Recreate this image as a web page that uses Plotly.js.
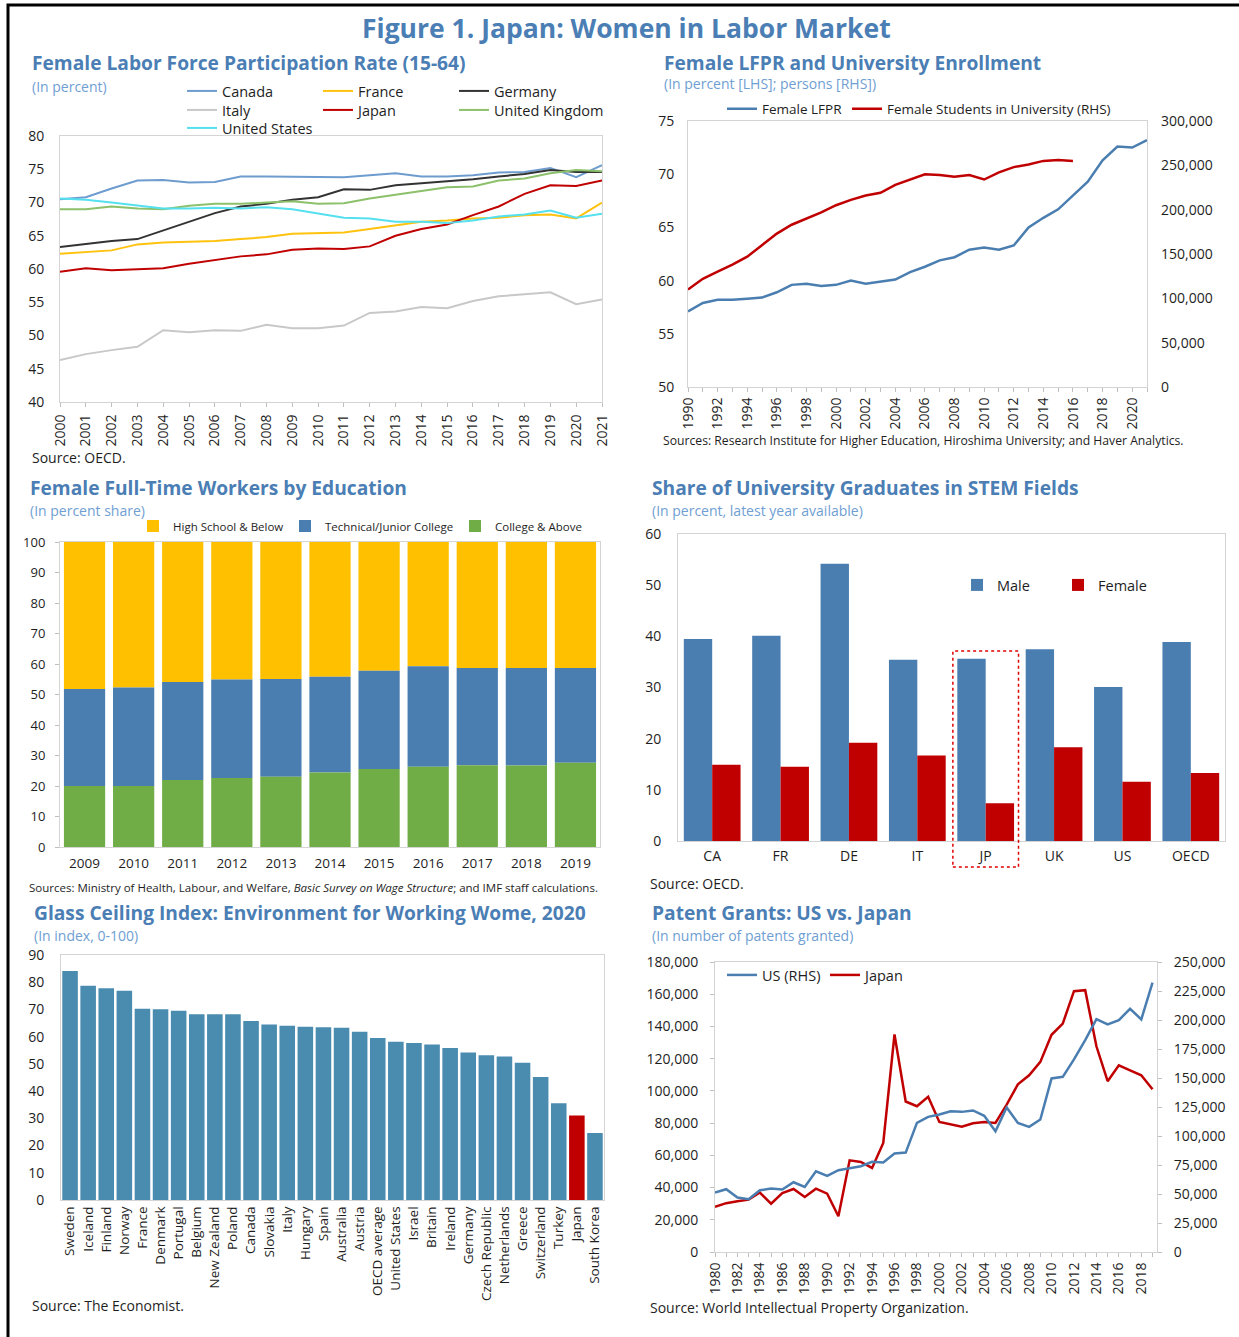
<!DOCTYPE html>
<html><head><meta charset="utf-8">
<script src="https://cdn.plot.ly/plotly-3.0.1.min.js"></script>
<style>html,body{margin:0;padding:0;background:#fff}#chart{width:1239px;height:1337px}</style>
</head><body><div id="chart"></div>
<script>
// ---------- DATA ----------
// Panel 1: Female LFPR (15-64), percent
const lfprYears = [2000,2001,2002,2003,2004,2005,2006,2007,2008,2009,2010,2011,2012,2013,2014,2015,2016,2017,2018,2019,2020,2021];
const lfprCanada = [70.5,70.8,72.1,73.3,73.4,73.0,73.1,73.9,73.9,73.9,73.9,73.8,74.1,74.4,73.9,73.9,74.1,74.5,74.6,75.2,73.8,75.6];
const lfprFrance = [62.3,62.5,62.8,63.7,64.0,64.1,64.2,64.5,64.8,65.3,65.4,65.5,66.0,66.6,67.1,67.3,67.6,67.7,68.1,68.2,67.6,70.0];
const lfprGermany = [63.3,63.8,64.2,64.5,65.8,67.0,68.4,69.4,69.8,70.4,70.8,72.0,71.9,72.6,72.9,73.1,73.5,73.9,74.3,74.9,74.6,74.6];
const lfprItaly = [46.3,47.2,47.8,48.3,50.8,50.5,50.8,50.7,51.6,51.1,51.1,51.5,53.4,53.6,54.3,54.1,55.2,55.9,56.2,56.5,54.7,55.4];
const lfprJapan = [59.6,60.1,59.8,59.9,60.1,60.8,61.3,61.9,62.2,62.9,63.1,63.0,63.4,65.0,66.0,66.7,68.1,69.4,71.3,72.6,72.5,73.3];
const lfprUK = [69.0,69.0,69.4,69.1,69.0,69.5,69.8,69.8,70.0,70.2,69.8,69.9,70.6,71.2,71.7,72.3,72.4,73.3,73.6,74.4,74.9,74.7];
const lfprUS = [70.6,70.4,70.0,69.6,69.1,69.1,69.2,69.1,69.3,69.0,68.3,67.7,67.6,67.1,67.1,66.9,67.3,67.9,68.2,68.8,67.7,68.3];

// Panel 2: Japan female LFPR and female university students
const jpYears = [1990,1991,1992,1993,1994,1995,1996,1997,1998,1999,2000,2001,2002,2003,2004,2005,2006,2007,2008,2009,2010,2011,2012,2013,2014,2015,2016,2017,2018,2019,2020,2021];
const jpFemaleLFPR = [57.1,57.9,58.2,58.2,58.3,58.4,58.9,59.6,59.7,59.5,59.6,60.0,59.7,59.9,60.1,60.8,61.3,61.9,62.2,62.9,63.1,62.9,63.3,65.0,65.9,66.7,68.0,69.3,71.3,72.6,72.5,73.2];
const studentYears = [1990,1991,1992,1993,1994,1995,1996,1997,1998,1999,2000,2001,2002,2003,2004,2005,2006,2007,2008,2009,2010,2011,2012,2013,2014,2015,2016];
const femaleStudents = [110000,122000,130000,138000,147000,160000,173000,183000,190000,197000,205000,211000,216000,219000,228000,234000,240000,239000,237000,239000,234000,242000,248000,251000,255000,256000,255000];

// Panel 3: Female full-time workers by education (percent share)
const eduYears = ['2009','2010','2011','2012','2013','2014','2015','2016','2017','2018','2019'];
const eduCollege = [20.0,20.0,22.0,22.6,23.0,24.4,25.6,26.3,26.8,26.7,27.6];
const eduTechnical = [31.8,32.3,32.1,32.3,32.1,31.4,32.2,33.0,31.9,32.0,31.1];
const eduHighSchool = [48.2,47.7,45.9,45.1,44.9,44.2,42.2,40.7,41.3,41.3,41.3];

// Panel 4: Share of university graduates in STEM fields
const stemCountries = ['CA','FR','DE','IT','JP','UK','US','OECD'];
const stemMale = [39.5,40.1,54.2,35.4,35.6,37.5,30.1,38.9];
const stemFemale = [14.9,14.5,19.2,16.7,7.4,18.3,11.6,13.3];

// Panel 5: Glass ceiling index 2020
const gciCountries = ['Sweden','Iceland','Finland','Norway','France','Denmark','Portugal','Belgium','New Zealand','Poland','Canada','Slovakia','Italy','Hungary','Spain','Australia','Austria','OECD average','United States','Israel','Britain','Ireland','Germany','Czech Republic','Netherlands','Greece','Switzerland','Turkey','Japan','South Korea'];
const gciValues = [84.1,78.7,77.8,76.9,70.3,70.1,69.5,68.2,68.2,68.2,65.8,64.5,64.0,63.6,63.5,63.3,61.8,59.5,58.1,57.7,57.1,55.8,54.2,53.2,52.7,50.4,45.2,35.5,31.0,24.6];

// Panel 6: Patent grants
const patentYears = [1980,1981,1982,1983,1984,1985,1986,1987,1988,1989,1990,1991,1992,1993,1994,1995,1996,1997,1998,1999,2000,2001,2002,2003,2004,2005,2006,2007,2008,2009,2010,2011,2012,2013,2014,2015,2016,2017,2018,2019];
const patentUS = [51200,54100,46900,45500,53200,54700,53800,60100,56100,69600,65600,70500,72200,73900,77700,77100,84900,85700,111300,116500,118500,121400,120800,122000,117400,104100,124600,111300,107900,114200,149600,151000,166000,182700,200800,196200,199900,209700,200500,232200];
const patentJapan = [28000,30300,31500,32500,36900,30000,36600,39100,34200,39300,36200,22200,56900,55900,52200,67700,135000,93400,90500,96300,80700,79100,77800,79900,80700,80100,91500,104100,109700,118000,134800,141800,161900,162500,127700,106000,115900,112800,109700,101000];

// ---------- LAYOUT HELPERS ----------
const W = 1239, H = 1337;
const px = v => v / W;
const py = v => 1 - v / H;
const xd = (a, b) => [px(a), px(b)];
const yd = (top, bot) => [py(bot), py(top)];

const FONT = 'Open Sans, sans-serif';
const TXT = '#1e1e1e';
const TITLE_BLUE = '#4A7EB4';
const SUB_BLUE = '#6F9ED3';
const BOX = '#d4d4d4';
const BLUE = '#4A7EB0';
const RED = '#C00000';

function baseAxis(extra) {
  return Object.assign({
    showgrid: false, zeroline: false, showline: true, mirror: true,
    linecolor: BOX, linewidth: 1, ticks: 'outside', ticklen: 4, tickcolor: '#bfbfbf',
    tickfont: {family: FONT, size: 14, color: TXT}, fixedrange: true
  }, extra);
}

const traces = [];
// Panel 1 (legend rows of three columns)
const p1 = [
  ['Canada', lfprCanada, '#6E9CCF', 'legend', 91],
  ['France', lfprFrance, '#FFC20E', 'legend', 91],
  ['Germany', lfprGermany, '#333333', 'legend', null],
  ['Italy', lfprItaly, '#C8C8C8', 'legend2', 91],
  ['Japan', lfprJapan, RED, 'legend2', 91],
  ['United Kingdom', lfprUK, '#8CC06B', 'legend2', null],
  ['United States', lfprUS, '#55E0F0', 'legend3', null]
];
p1.forEach(s => {
  const t = {type: 'scatter', mode: 'lines', name: s[0], x: lfprYears, y: s[1],
    line: {color: s[2], width: 2}, xaxis: 'x', yaxis: 'y', legend: s[3]};
  if (s[4]) t.legendwidth = s[4];
  traces.push(t);
});
// Panel 2
traces.push({type: 'scatter', mode: 'lines', name: 'Female LFPR', x: jpYears, y: jpFemaleLFPR,
  line: {color: BLUE, width: 2.5}, xaxis: 'x2', yaxis: 'y2', legend: 'legend4', legendwidth: 80});
traces.push({type: 'scatter', mode: 'lines', name: 'Female Students in University (RHS)', x: studentYears, y: femaleStudents,
  line: {color: RED, width: 2.5}, xaxis: 'x2', yaxis: 'y3', legend: 'legend4'});
// Panel 3 (stacked via base)
const techBase = eduCollege;
const hsBase = eduCollege.map((v, i) => v + eduTechnical[i]);
traces.push({type: 'bar', name: 'High School & Below', x: eduYears, y: eduHighSchool, base: hsBase,
  marker: {color: '#FFC000'}, width: 0.84, xaxis: 'x3', yaxis: 'y4', legend: 'legend5', legendwidth: 107});
traces.push({type: 'bar', name: 'Technical/Junior College', x: eduYears, y: eduTechnical, base: techBase,
  marker: {color: BLUE}, width: 0.84, xaxis: 'x3', yaxis: 'y4', legend: 'legend5', legendwidth: 125});
traces.push({type: 'bar', name: 'College & Above', x: eduYears, y: eduCollege,
  marker: {color: '#70AD47'}, width: 0.84, xaxis: 'x3', yaxis: 'y4', legend: 'legend5'});
// Panel 4
traces.push({type: 'bar', name: 'Male', x: stemCountries, y: stemMale, width: 0.415, offset: -0.415,
  marker: {color: BLUE}, xaxis: 'x4', yaxis: 'y5', legend: 'legend6', legendwidth: 56});
traces.push({type: 'bar', name: 'Female', x: stemCountries, y: stemFemale, width: 0.415, offset: 0,
  marker: {color: RED}, xaxis: 'x4', yaxis: 'y5', legend: 'legend6'});
// Panel 5
traces.push({type: 'bar', name: 'Glass ceiling index', x: gciCountries, y: gciValues, width: 0.86,
  marker: {color: gciCountries.map(c => c === 'Japan' ? RED : '#4A8BB0')}, xaxis: 'x5', yaxis: 'y6', showlegend: false});
// Panel 6
traces.push({type: 'scatter', mode: 'lines', name: 'US (RHS)', x: patentYears, y: patentUS,
  line: {color: BLUE, width: 2.5}, xaxis: 'x6', yaxis: 'y8', legend: 'legend7', legendwidth: 58});
traces.push({type: 'scatter', mode: 'lines', name: 'Japan', x: patentYears, y: patentJapan,
  line: {color: RED, width: 2.5}, xaxis: 'x6', yaxis: 'y7', legend: 'legend7'});

function legendAt(textX, rowY, size) {
  return {orientation: 'h', x: px(textX - 40), xanchor: 'left', y: py(rowY), yanchor: 'middle',
    bgcolor: 'rgba(0,0,0,0)', borderwidth: 0, font: {family: FONT, size: size, color: TXT}, itemclick: false, itemdoubleclick: false};
}

function ann(text, x, y, size, color, opts) {
  return Object.assign({text: text, xref: 'paper', yref: 'paper', x: px(x), y: py(y), xanchor: 'left', yanchor: 'middle',
    showarrow: false, font: {family: FONT, size: size, color: color}}, opts || {});
}
const T = (t, x, y) => ann('<b>' + t + '</b>', x, y, 19.2, TITLE_BLUE);
const S = (t, x, y) => ann(t, x, y, 14, SUB_BLUE);

const layout = {
  width: W, height: H, margin: {l: 0, r: 0, t: 0, b: 0}, paper_bgcolor: '#fff', plot_bgcolor: '#fff',
  font: {family: FONT, color: TXT}, barmode: 'overlay', hovermode: false, showlegend: true,
  // Panel 1
  xaxis: baseAxis({domain: xd(60, 602), anchor: 'y', range: [2000, 2021], tickmode: 'linear', tick0: 2000, dtick: 1, tickangle: -90, ticklabelstandoff: 2}),
  yaxis: baseAxis({domain: yd(136, 402), anchor: 'x', range: [40, 80], dtick: 5, ticks: '', ticklabelstandoff: 12}),
  // Panel 2
  xaxis2: baseAxis({domain: xd(688, 1147), anchor: 'y2', range: [1990, 2021], tickmode: 'linear', tick0: 1990, dtick: 2, tickangle: -90,
    minor: {dtick: 1, ticks: 'outside', ticklen: 4, tickcolor: '#bfbfbf'}}),
  yaxis2: baseAxis({domain: yd(121, 387), anchor: 'x2', range: [50, 75], dtick: 5, ticks: '', ticklabelstandoff: 10}),
  yaxis3: baseAxis({overlaying: 'y2', side: 'right', anchor: 'x2', range: [0, 300000], dtick: 50000, tickformat: ',d', ticks: '', showline: false, ticklabelstandoff: 13}),
  // Panel 3
  xaxis3: baseAxis({domain: xd(60, 600), anchor: 'y4', type: 'category', ticks: '', ticklabelstandoff: 4, tickfont: {family: FONT, size: 13.5, color: TXT}}),
  yaxis4: baseAxis({domain: yd(542, 847), anchor: 'x3', range: [0, 100], dtick: 10, ticklabelstandoff: 7, tickfont: {family: FONT, size: 13, color: TXT}}),
  // Panel 4
  xaxis4: baseAxis({domain: xd(678, 1225), anchor: 'y5', type: 'category', ticks: '', ticklabelstandoff: 2}),
  yaxis5: baseAxis({domain: yd(534, 841), anchor: 'x4', range: [0, 60], dtick: 10, ticks: '', ticklabelstandoff: 13}),
  // Panel 5
  xaxis5: baseAxis({domain: xd(61, 604), anchor: 'y6', type: 'category', ticks: '', tickangle: -90, tickfont: {family: FONT, size: 13.5, color: TXT}}),
  yaxis6: baseAxis({domain: yd(955, 1200), anchor: 'x5', range: [0, 90], dtick: 10, ticks: '', ticklabelstandoff: 13}),
  // Panel 6
  xaxis6: baseAxis({domain: xd(715, 1157), anchor: 'y7', range: [1980, 2019.4], tickmode: 'linear', tick0: 1980, dtick: 2, tickangle: -90,
    minor: {dtick: 1, ticks: 'outside', ticklen: 4, tickcolor: '#bfbfbf'}}),
  yaxis7: baseAxis({domain: yd(962, 1252), anchor: 'x6', range: [0, 180000], dtick: 20000, tickformat: ',d', ticks: 'outside', ticklabelstandoff: 9}),
  yaxis8: baseAxis({overlaying: 'y7', side: 'right', anchor: 'x6', range: [0, 250000], dtick: 25000, tickformat: ',d', showline: false, ticklabelstandoff: 9}),

  legend: legendAt(222, 91, 14.5),
  legend2: legendAt(222, 110, 14.5),
  legend3: legendAt(222, 128, 14.5),
  legend4: legendAt(762, 109, 13.5),
  legend5: legendAt(173, 526, 11.5),
  legend6: legendAt(997, 585, 14.5),
  legend7: legendAt(762, 975, 14.5),

  shapes: [
    {type: 'rect', xref: 'paper', yref: 'paper', x0: px(8), x1: 1.02, y0: -0.02, y1: py(5), line: {color: '#000', width: 3}},
    {type: 'rect', xref: 'x4', yref: 'paper', x0: 3.52, x1: 4.48, y0: py(867), y1: py(651), line: {color: '#E00000', width: 1.5, dash: 'dot'}}
  ],
  annotations: [
    ann('<b>Figure 1. Japan: Women in Labor Market</b>', 626, 28, 26.5, TITLE_BLUE, {xanchor: 'center'}),
    T('Female Labor Force Participation Rate (15-64)', 30, 63), S('(In percent)', 30, 86),
    ann('Source: OECD.', 30, 457, 14, TXT),
    T('Female LFPR and University Enrollment', 662, 62), S('(In percent [LHS]; persons [RHS])', 662, 84),
    ann('Sources: Research Institute for Higher Education, Hiroshima University; and Haver Analytics.', 661, 441, 12.2, TXT),
    T('Female Full-Time Workers by Education', 28, 487), S('(In percent share)', 28, 510),
    ann('Sources: Ministry of Health, Labour, and Welfare, <i>Basic Survey on Wage Structure</i>; and IMF staff calculations.', 27, 887, 11.5, TXT),
    T('Share of University Graduates in STEM Fields', 650, 487), S('(In percent, latest year available)', 650, 510),
    ann('Source: OECD.', 648, 883, 14, TXT),
    T('Glass Ceiling Index: Environment for Working Wome, 2020', 32, 912), S('(In index, 0-100)', 32, 935),
    ann('Source: The Economist.', 30, 1305, 14, TXT),
    T('Patent Grants: US vs. Japan', 650, 912), S('(In number of patents granted)', 650, 935),
    ann('Source: World Intellectual Property Organization.', 648, 1307, 14, TXT)
  ]
};

Plotly.newPlot('chart', traces, layout, {staticPlot: true, displayModeBar: false});
</script></body></html>
